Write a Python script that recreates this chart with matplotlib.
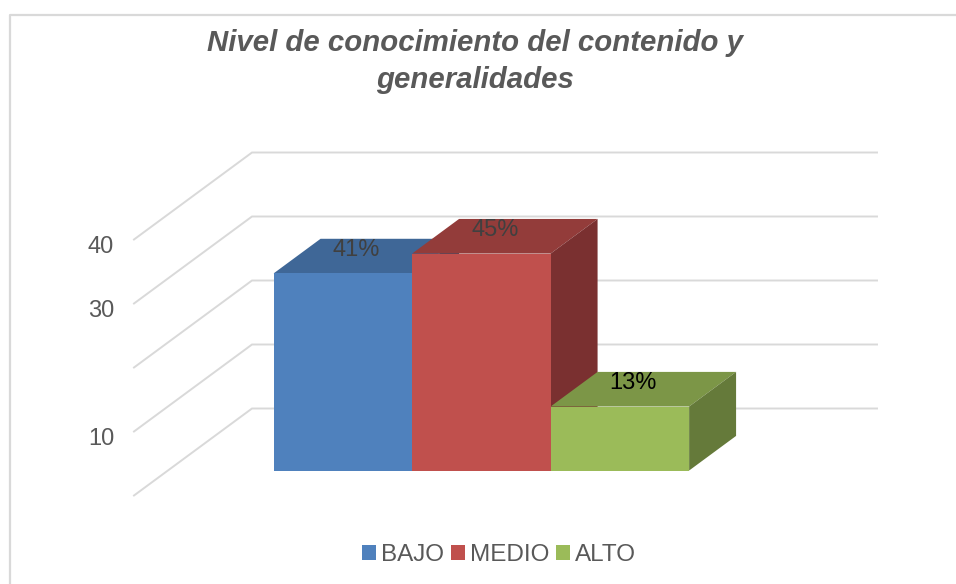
import matplotlib
matplotlib.use("Agg")
import matplotlib.pyplot as plt
from matplotlib.patches import Patch, Polygon

categories = ["BAJO", "MEDIO", "ALTO"]
values = [30.8, 33.9, 10]
labels = ["41%", "45%", "13%"]
label_colors = ["#404040", "#404040", "#000000"]
y_ticks = [0, 10, 20, 30, 40]
y_tick_labels = ["", "10", "", "30", "40"]

front_colors = ["#4F81BD", "#C0504D", "#9BBB59"]
top_colors = ["#3F6797", "#933C3A", "#7C9647"]
side_colors = ["#2F4D71", "#7A3030", "#657A3A"]

# pixel scale of the fake 3d box
W, H = 956, 584
PX_PER_CAT = 138.5
PX_PER_UNIT = 6.4
X0_PX = 309.0
Y0_PX = 495.5
DEPTH_X = 118 / PX_PER_CAT
DEPTH_Y = 87 / PX_PER_UNIT
WALL_RIGHT = (877 - 252) / PX_PER_CAT
WALL_LEFT = (134 - X0_PX) / PX_PER_CAT
BAR_D0, BAR_D1 = 0.287, 0.685

plt.rcParams["font.family"] = ["Liberation Sans", "DejaVu Sans"]

fig = plt.figure(figsize=(W / 100, H / 100), dpi=100)
ax = fig.add_axes([0, 0, 1, 1])
ax.set_xlim(-X0_PX / PX_PER_CAT, (W - X0_PX) / PX_PER_CAT)
ax.set_ylim(-(H - Y0_PX) / PX_PER_UNIT, Y0_PX / PX_PER_UNIT)
ax.axis("off")


def project(x, v, depth):
    return x + depth * DEPTH_X, v + depth * DEPTH_Y


# outer frame, only top and left show
fig.add_artist(plt.Line2D([9.5 / W, 9.5 / W, 1], [0, 1 - 15 / H, 1 - 15 / H],
                          color="#D9D9D9", lw=1.6))

# grid on the side and back walls
for t, lab in zip(y_ticks, y_tick_labels):
    bx, by = project(WALL_LEFT, t, 1)
    ax.plot([WALL_LEFT, bx, bx + WALL_RIGHT], [t, by, by],
            color="#D9D9D9", lw=1.4, zorder=1, solid_joinstyle="miter")
    if lab:
        ax.text(WALL_LEFT - 20 / PX_PER_CAT, t - 1.2, lab, ha="right", va="center",
                fontsize=17, color="#595959")

# bars, back faces first so the neighbour overlaps properly
for i, v in enumerate(values):
    l, r = i - 0.5, i + 0.5
    fl = project(l, 0, BAR_D0)
    fr = project(r, 0, BAR_D0)
    tl = project(l, v, BAR_D0)
    tr = project(r, v, BAR_D0)
    bl = project(l, v, BAR_D1)
    br = project(r, v, BAR_D1)
    sb = project(r, 0, BAR_D1)
    ax.add_patch(Polygon([tl, bl, br, tr], fc=top_colors[i], ec="none", zorder=3 + i))
    ax.add_patch(Polygon([fr, tr, br, sb], fc=side_colors[i], ec="none", zorder=3 + i))
    ax.add_patch(Polygon([fl, tl, tr, fr], fc=front_colors[i], ec="none", zorder=3 + i))

for i, (v, lab, lc) in enumerate(zip(values, labels, label_colors)):
    lx, ly = project(i, v, (BAR_D0 + BAR_D1) / 2)
    ax.text(lx - 10 / PX_PER_CAT, ly + 0.9, lab, ha="center", va="center",
            fontsize=17, color=lc, zorder=10)

fig.text(475 / W, 1 - 61.5 / H, "Nivel de conocimiento del contenido y\ngeneralidades",
         ha="center", va="center", fontsize=21.2, fontweight="bold", fontstyle="italic",
         color="#595959", linespacing=1.38)

handles = [Patch(fc=c, ec="none") for c in front_colors]
fig.legend(handles, categories, loc="center", bbox_to_anchor=(499 / W, 1 - 555 / H),
           ncol=3, frameon=False, fontsize=17.5, labelcolor="#595959",
           handlelength=0.58, handleheight=0.58, handletextpad=0.22, columnspacing=0.27,
           borderpad=0)

fig.savefig("out.png", dpi=100)
